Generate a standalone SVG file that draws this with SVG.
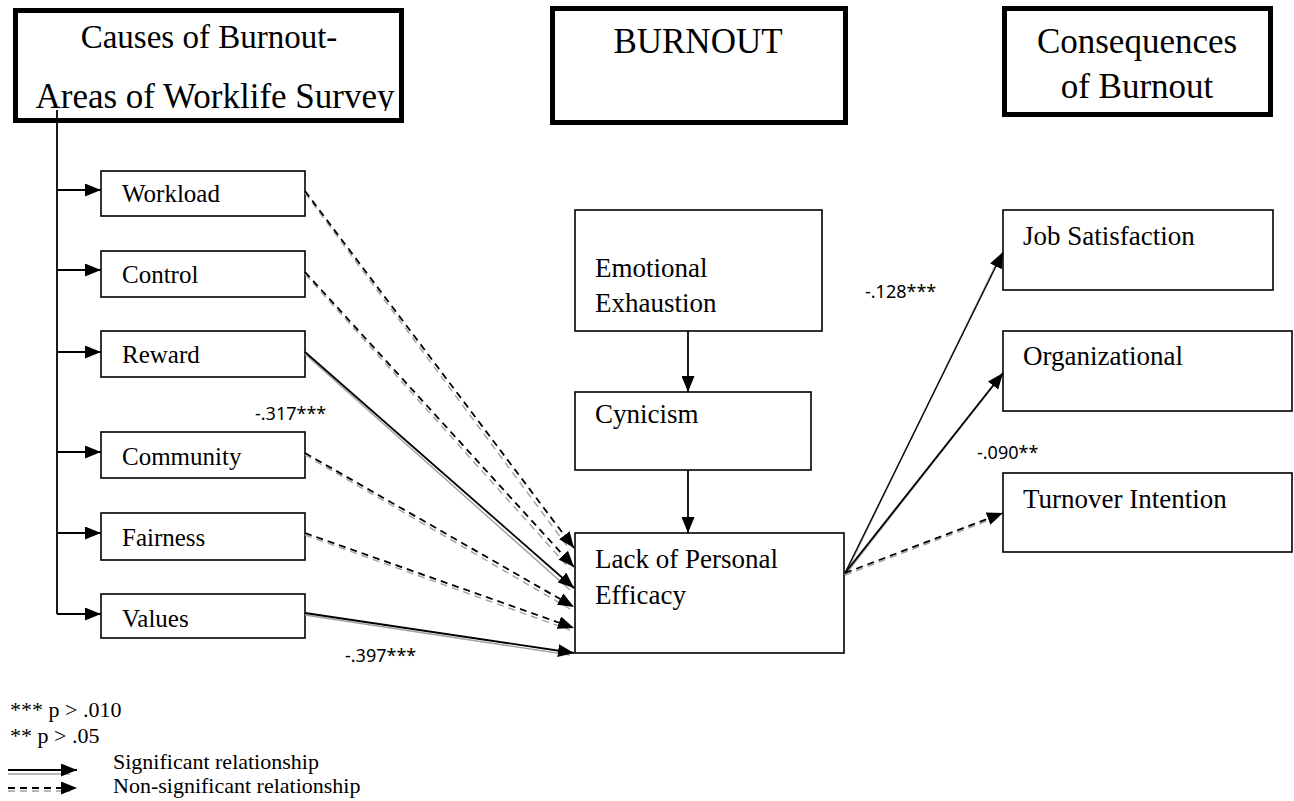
<svg xmlns="http://www.w3.org/2000/svg" width="1294" height="801" viewBox="0 0 1294 801">
<defs>
<style>
.hdr{fill:#fff;stroke:#000;stroke-width:5}
.box{fill:#fff;stroke:#000;stroke-width:1.6}
.t{font-family:"Liberation Serif","Times New Roman",serif;fill:#000}
.h{font-size:35px}
.s{font-size:25px}
.m{font-size:27px}
.lg{font-size:22px}
.num{font-family:"Noto Sans","Open Sans",sans-serif;font-size:18px;fill:#000}
.ln{stroke:#000;stroke-width:1.8;fill:none}
.sh{stroke:#a0a0a0;stroke-width:1.4;fill:none}
.da{stroke-dasharray:7 5}
</style>
<marker id="ah" viewBox="0 0 16 13" refX="16" refY="6.5" markerWidth="16" markerHeight="13" markerUnits="userSpaceOnUse" orient="auto"><path d="M0,0 L16,6.5 L0,13 z" fill="#000"/></marker>
<clipPath id="clipT"><rect x="0" y="0" width="420" height="111"/></clipPath>
</defs>
<rect width="1294" height="801" fill="#fff"/>

<g id="causes">
<rect class="hdr" x="15.5" y="10.5" width="386" height="110"/>
<text class="t" style="font-size:33px" x="209" y="48" text-anchor="middle">Causes of Burnout-</text>
<text class="t h" x="215" y="108" text-anchor="middle" clip-path="url(#clipT)">Areas of Worklife Survey</text>
</g>
<g id="burnout">
<rect class="hdr" x="552.5" y="8.5" width="293" height="114"/>
<text class="t h" x="698" y="53" text-anchor="middle">BURNOUT</text>
</g>
<g id="consequences">
<rect class="hdr" x="1004.5" y="8.5" width="266" height="106"/>
<text class="t h" x="1137" y="53" text-anchor="middle">Consequences</text>
<text class="t h" x="1137" y="98" text-anchor="middle">of Burnout</text>
</g>

<g id="workload"><rect class="box" x="101" y="171" width="204" height="45"/><text class="t s" x="122" y="202">Workload</text></g>
<g id="control"><rect class="box" x="101" y="251" width="204" height="46"/><text class="t s" x="122" y="283">Control</text></g>
<g id="reward"><rect class="box" x="101" y="331" width="204" height="46"/><text class="t s" x="122" y="363">Reward</text></g>
<g id="community"><rect class="box" x="101" y="432" width="204" height="46"/><text class="t s" x="122" y="465">Community</text></g>
<g id="fairness"><rect class="box" x="101" y="513" width="204" height="47"/><text class="t s" x="122" y="546">Fairness</text></g>
<g id="values"><rect class="box" x="101" y="594" width="204" height="44"/><text class="t s" x="122" y="627">Values</text></g>

<g id="emotional"><rect class="box" x="575" y="210" width="247" height="121"/><text class="t m" x="595" y="277">Emotional</text><text class="t m" x="595" y="312">Exhaustion</text></g>
<g id="cynicism"><rect class="box" x="575" y="392" width="236" height="78"/><text class="t m" x="595" y="423">Cynicism</text></g>
<g id="efficacy"><rect class="box" x="575" y="533" width="269" height="120"/><text class="t m" x="595" y="568">Lack of Personal</text><text class="t m" x="595" y="604">Efficacy</text></g>

<g id="jobsat"><rect class="box" x="1003" y="210" width="270" height="80"/><text class="t m" x="1023" y="245">Job Satisfaction</text></g>
<g id="org"><rect class="box" x="1003" y="331" width="289" height="80"/><text class="t m" x="1023" y="365">Organizational</text></g>
<g id="turnover"><rect class="box" x="1003" y="473" width="289" height="79"/><text class="t m" x="1023" y="508">Turnover Intention</text></g>

<g id="connectors">
<line class="ln" x1="57" y1="110" x2="57" y2="614"/>
<line class="ln" x1="57" y1="190" x2="101" y2="190" marker-end="url(#ah)"/>
<line class="ln" x1="57" y1="270" x2="101" y2="270" marker-end="url(#ah)"/>
<line class="ln" x1="57" y1="352" x2="101" y2="352" marker-end="url(#ah)"/>
<line class="ln" x1="57" y1="452" x2="101" y2="452" marker-end="url(#ah)"/>
<line class="ln" x1="57" y1="533" x2="101" y2="533" marker-end="url(#ah)"/>
<line class="ln" x1="57" y1="614" x2="101" y2="614" marker-end="url(#ah)"/>
<line class="ln" x1="688" y1="331" x2="688" y2="392" marker-end="url(#ah)"/>
<line class="ln" x1="688" y1="470" x2="688" y2="533" marker-end="url(#ah)"/>

<g transform="translate(0,2)">
<line class="sh da" x1="305" y1="191" x2="570" y2="548"/>
<line class="sh da" x1="305" y1="272" x2="570" y2="567"/>
<line class="sh" x1="305" y1="352" x2="570" y2="588"/>
<line class="sh da" x1="305" y1="453" x2="570" y2="607"/>
<line class="sh da" x1="305" y1="533" x2="570" y2="628"/>
<line class="sh" x1="305" y1="613" x2="570" y2="653"/>
<line class="sh" x1="845" y1="573" x2="1000" y2="254"/>
<line class="sh" x1="845" y1="573" x2="1000" y2="375"/>
<line class="sh da" x1="845" y1="573" x2="1000" y2="514"/>
</g>
<line class="ln da" x1="305" y1="191" x2="574" y2="548" marker-end="url(#ah)"/>
<line class="ln da" x1="305" y1="272" x2="574" y2="567" marker-end="url(#ah)"/>
<line class="ln" x1="305" y1="352" x2="574" y2="588" marker-end="url(#ah)"/>
<line class="ln da" x1="305" y1="453" x2="574" y2="607" marker-end="url(#ah)"/>
<line class="ln da" x1="305" y1="533" x2="574" y2="628" marker-end="url(#ah)"/>
<line class="ln" x1="305" y1="613" x2="574" y2="653" marker-end="url(#ah)"/>
<line class="ln" x1="845" y1="573" x2="1003" y2="252" marker-end="url(#ah)" style="stroke-width:1.3"/>
<line class="ln" x1="845" y1="573" x2="1003" y2="373" marker-end="url(#ah)"/>
<line class="ln da" x1="845" y1="573" x2="1003" y2="513" marker-end="url(#ah)"/>
</g>

<g id="labels">
<text class="num" x="255" y="420">-.317***</text>
<text class="num" x="345" y="662">-.397***</text>
<text class="num" x="865" y="298">-.128***</text>
<text class="num" x="977" y="459">-.090**</text>
</g>

<g id="legend">
<text class="t lg" x="10" y="717">*** p &gt; .010</text>
<text class="t lg" x="10" y="743">** p &gt; .05</text>
<line class="sh" x1="8" y1="774" x2="70" y2="774"/>
<line class="ln" x1="8" y1="770" x2="77" y2="770" marker-end="url(#ah)"/>
<line class="sh da" x1="8" y1="791" x2="70" y2="791"/>
<line class="ln da" x1="8" y1="788" x2="77" y2="788" marker-end="url(#ah)"/>
<text class="t lg" x="113" y="769">Significant relationship</text>
<text class="t lg" x="113" y="793">Non-significant relationship</text>
</g>
</svg>
